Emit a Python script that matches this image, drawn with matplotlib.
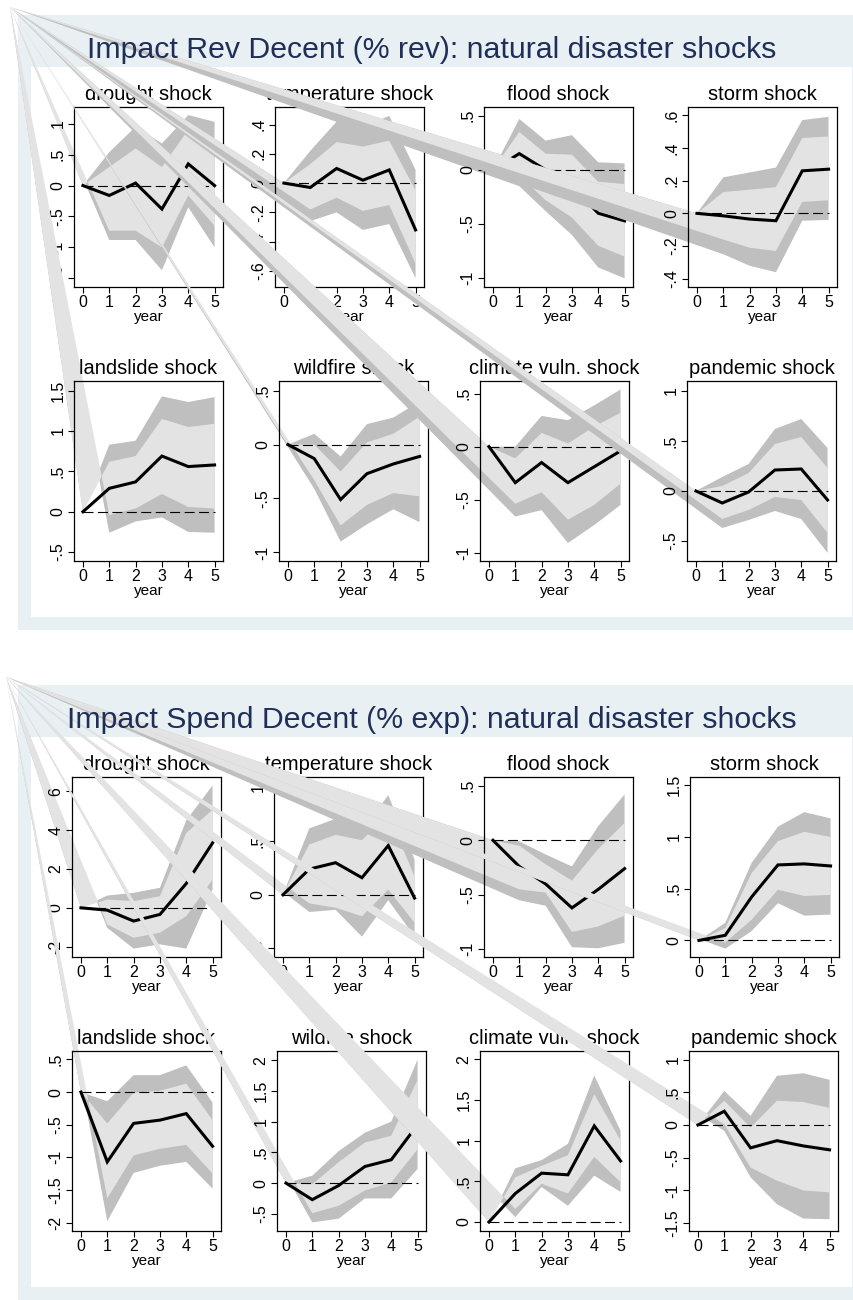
import matplotlib.pyplot as plt
from matplotlib.patches import Polygon, Rectangle

plt.rcParams['font.family'] = ['Liberation Sans', 'DejaVu Sans']

W, H = 854, 1300

years = [0, 1, 2, 3, 4, 5]
shocks = ['drought shock', 'temperature shock', 'flood shock', 'storm shock',
          'landslide shock', 'wildfire shock', 'climate vuln. shock', 'pandemic shock']

# --- Impact Rev Decent (% rev) ---
rev_est = [[0, -0.16, 0.04, -0.38, 0.35, 0.0],
           [0, -0.03, 0.10, 0.02, 0.09, -0.32],
           [0, 0.15, 0.0, -0.15, -0.40, -0.47],
           [0, -0.015, -0.035, -0.045, 0.26, 0.27],
           [0, 0.29, 0.37, 0.69, 0.56, 0.58],
           [0, -0.13, -0.51, -0.27, -0.18, -0.11],
           [0, -0.34, -0.15, -0.34, -0.19, -0.04],
           [0, -0.12, -0.01, 0.21, 0.22, -0.09]]
rev_hi90 = [[0, 0.54, 0.95, 0.68, 1.14, 1.03],
            [0, 0.22, 0.42, 0.38, 0.46, 0.09],
            [0, 0.47, 0.27, 0.32, 0.07, 0.06],
            [0, 0.22, 0.25, 0.28, 0.57, 0.59],
            [0, 0.83, 0.88, 1.43, 1.36, 1.42],
            [0, 0.10, -0.11, 0.19, 0.25, 0.40],
            [0, 0.0, 0.29, 0.25, 0.39, 0.54],
            [0, 0.14, 0.27, 0.62, 0.72, 0.43]]
rev_hi68 = [[0, 0.30, 0.60, 0.30, 0.90, 0.62],
            [0, 0.13, 0.28, 0.25, 0.29, -0.05],
            [0, 0.35, 0.15, 0.14, -0.11, -0.13],
            [0, 0.13, 0.145, 0.16, 0.46, 0.47],
            [0, 0.62, 0.69, 1.15, 1.05, 1.09],
            [0, 0.0, -0.25, 0.02, 0.10, 0.26],
            [0, -0.11, 0.13, 0.03, 0.19, 0.32],
            [0, 0.05, 0.18, 0.47, 0.54, 0.23]]
rev_lo68 = [[0, -0.73, -0.73, -1.0, -0.16, -0.65],
            [0, -0.18, -0.10, -0.19, -0.15, -0.55],
            [0, -0.05, -0.28, -0.44, -0.70, -0.80],
            [0, -0.16, -0.21, -0.23, 0.07, 0.08],
            [0, -0.04, 0.04, 0.22, 0.06, 0.04],
            [0, -0.33, -0.75, -0.56, -0.45, -0.48],
            [0, -0.54, -0.43, -0.69, -0.55, -0.35],
            [0, -0.28, -0.19, -0.06, -0.09, -0.42]]
rev_lo90 = [[0, -0.88, -0.88, -1.37, -0.35, -1.0],
            [0, -0.26, -0.20, -0.32, -0.28, -0.65],
            [0, -0.15, -0.38, -0.60, -0.90, -1.0],
            [0, -0.25, -0.32, -0.36, -0.045, -0.04],
            [0, -0.26, -0.12, -0.07, -0.25, -0.26],
            [0, -0.41, -0.90, -0.74, -0.60, -0.72],
            [0, -0.66, -0.60, -0.91, -0.74, -0.55],
            [0, -0.37, -0.29, -0.20, -0.28, -0.62]]
rev_yticks = [[-1.5, -1, -0.5, 0, 0.5, 1], [-0.6, -0.4, -0.2, 0, 0.2, 0.4],
              [-1, -0.5, 0, 0.5], [-0.4, -0.2, 0, 0.2, 0.4, 0.6],
              [-0.5, 0, 0.5, 1, 1.5], [-1, -0.5, 0, 0.5],
              [-1, -0.5, 0, 0.5], [-0.5, 0, 0.5, 1]]
rev_ylim = [(-1.64, 1.27), (-0.71, 0.52), (-1.08, 0.58), (-0.45, 0.65),
            (-0.61, 1.62), (-1.08, 0.59), (-1.08, 0.62), (-0.70, 1.10)]

# --- Impact Spend Decent (% exp) ---
exp_est = [[0, -0.12, -0.68, -0.34, 1.25, 3.34],
           [0, 0.24, 0.30, 0.16, 0.46, -0.03],
           [0, -0.24, -0.40, -0.62, -0.45, -0.26],
           [0, 0.05, 0.42, 0.73, 0.74, 0.72],
           [0, -1.07, -0.48, -0.43, -0.33, -0.83],
           [0, -0.27, -0.04, 0.27, 0.38, 0.95],
           [0, 0.35, 0.60, 0.58, 1.18, 0.75],
           [0, 0.21, -0.35, -0.24, -0.32, -0.38]]
exp_hi90 = [[0, 0.63, 0.77, 1.03, 4.5, 6.3],
            [0, 0.62, 0.71, 0.60, 0.93, 0.33],
            [0, -0.01, -0.13, -0.24, 0.13, 0.42],
            [0, 0.17, 0.75, 1.10, 1.24, 1.18],
            [0, -0.14, 0.26, 0.26, 0.41, -0.16],
            [0, 0.12, 0.52, 0.82, 1.0, 2.01],
            [0, 0.66, 0.76, 0.96, 1.80, 1.12],
            [0, 0.52, 0.14, 0.75, 0.79, 0.69]]
exp_hi68 = [[0, 0.43, 0.34, 0.60, 3.85, 5.05],
            [0, 0.47, 0.56, 0.51, 0.76, 0.17],
            [0, -0.05, -0.22, -0.37, -0.08, 0.16],
            [0, 0.12, 0.65, 0.96, 1.05, 1.0],
            [0, -0.48, -0.01, 0.02, 0.13, -0.43],
            [0, -0.02, 0.34, 0.66, 0.77, 1.68],
            [0, 0.55, 0.69, 0.82, 1.57, 1.0],
            [0, 0.37, -0.04, 0.37, 0.35, 0.26]]
exp_lo68 = [[0, -0.86, -1.54, -1.28, -0.43, 1.45],
            [0, -0.08, -0.12, -0.20, 0.05, -0.26],
            [0, -0.45, -0.48, -0.84, -0.79, -0.69],
            [0, -0.02, 0.20, 0.49, 0.43, 0.44],
            [0, -1.63, -0.97, -0.87, -0.81, -1.25],
            [0, -0.49, -0.37, -0.12, 0.01, 0.55],
            [0, 0.16, 0.47, 0.35, 0.80, 0.49],
            [0, 0.01, -0.65, -0.85, -1.0, -1.03]]
exp_lo90 = [[0, -1.03, -2.1, -1.88, -2.1, 0.94],
            [0, -0.16, -0.14, -0.39, -0.05, -0.39],
            [0, -0.55, -0.60, -0.98, -0.99, -0.94],
            [0, -0.08, 0.09, 0.36, 0.24, 0.25],
            [0, -1.98, -1.24, -1.13, -1.07, -1.48],
            [0, -0.64, -0.58, -0.25, -0.25, 0.23],
            [0, 0.06, 0.43, 0.20, 0.57, 0.37],
            [0, -0.09, -0.80, -1.21, -1.43, -1.44]]
exp_yticks = [[-2, 0, 2, 4, 6], [-0.5, 0, 0.5, 1],
              [-1, -0.5, 0, 0.5], [0, 0.5, 1, 1.5],
              [-2, -1.5, -1, -0.5, 0, 0.5], [-0.5, 0, 0.5, 1, 1.5, 2],
              [0, 0.5, 1, 1.5, 2], [-1.5, -1, -0.5, 0, 0.5, 1]]
exp_ylim = [(-2.53, 6.73), (-0.58, 1.10), (-1.07, 0.58), (-0.16, 1.58),
            (-2.13, 0.63), (-0.78, 2.15), (-0.11, 2.10), (-1.62, 1.13)]

DARK = '#bfbfbf'
LIGHT = '#e3e3e3'
PANEL = '#e8f0f3'
TITLE_COL = '#1f2f58'


def stata_label(v):
    s = '%g' % v
    if s.startswith('0.'):
        s = s[1:]
    elif s.startswith('-0.'):
        s = '-' + s[2:]
    return s


def px_rect(x0, y0, x1, y1):
    # pixel box (origin top-left) -> figure fraction
    return [x0 / W, 1 - y1 / H, (x1 - x0) / W, (y1 - y0) / H]


fig = plt.figure(figsize=(W / 100, H / 100), dpi=100)


def draw_panel(dy, corner, title, est, lo90, lo68, hi68, hi90, yticks, ylims, lefts):
    # panel background
    fig.add_artist(Rectangle((18 / W, 1 - (630 + dy) / H), 1, 615 / H,
                             transform=fig.transFigure, fc=PANEL, ec='none', zorder=-3))
    fig.add_artist(Rectangle((31 / W, 1 - (617 + dy) / H), 821 / W, 550 / H,
                             transform=fig.transFigure, fc='white', ec='none', zorder=-2))
    fig.text(432 / W, 1 - (58 + dy) / H, title, ha='center', va='baseline',
             fontsize=21.8, color=TITLE_COL)

    tops = [107 + dy, 381 + dy]
    for k in range(8):
        row, col = divmod(k, 4)
        x0 = lefts[row][col]
        ax = fig.add_axes(px_rect(x0, tops[row], x0 + 149, tops[row] + 180))
        ax.set_xlim(-0.34, 5.32)
        ax.set_ylim(*ylims[k])

        # band polygons: first vertex sits at the panel corner (as in the source render)
        cdata = ax.transData.inverted().transform((corner[0], H - corner[1]))
        for lo, hi, col_ in ((lo90[k], hi90[k], DARK), (lo68[k], hi68[k], LIGHT)):
            verts = [tuple(cdata)]
            verts += [(years[i], lo[i]) for i in range(1, 6)]
            verts += [(years[i], hi[i]) for i in range(5, -1, -1)]
            ax.add_patch(Polygon(verts, closed=True, fc=col_, ec='none', lw=0,
                                 clip_on=False, zorder=1))

        ax.plot([years[0], years[-1]], [0, 0], color='black', lw=0.8,
                linestyle=(0, (9, 4)), zorder=2)
        ax.plot(years, est[k], color='black', lw=2.2, zorder=3,
                solid_joinstyle='miter')

        ax.set_xticks(years)
        ax.set_yticks(yticks[k])
        ax.set_yticklabels([stata_label(v) for v in yticks[k]], rotation=90, va='center')
        ax.tick_params(direction='out', length=4, width=0.8, labelsize=11.5, pad=2)
        ax.set_xlabel('year', fontsize=11, labelpad=0)
        ax.set_title(shocks[k], fontsize=14.5, pad=5)
        for s in ax.spines.values():
            s.set_linewidth(0.9)


draw_panel(0, (10, 7), 'Impact Rev Decent (% rev): natural disaster shocks',
           rev_est, rev_lo90, rev_lo68, rev_hi68, rev_hi90, rev_yticks, rev_ylim,
           [[74, 275, 484, 688], [74, 279, 480, 687]])
draw_panel(670, (6, 677), 'Impact Spend Decent (% exp): natural disaster shocks',
           exp_est, exp_lo90, exp_lo68, exp_hi68, exp_hi90, exp_yticks, exp_ylim,
           [[72, 274, 484, 690], [72, 277, 480, 689]])

fig.savefig('out.png', dpi=100)
